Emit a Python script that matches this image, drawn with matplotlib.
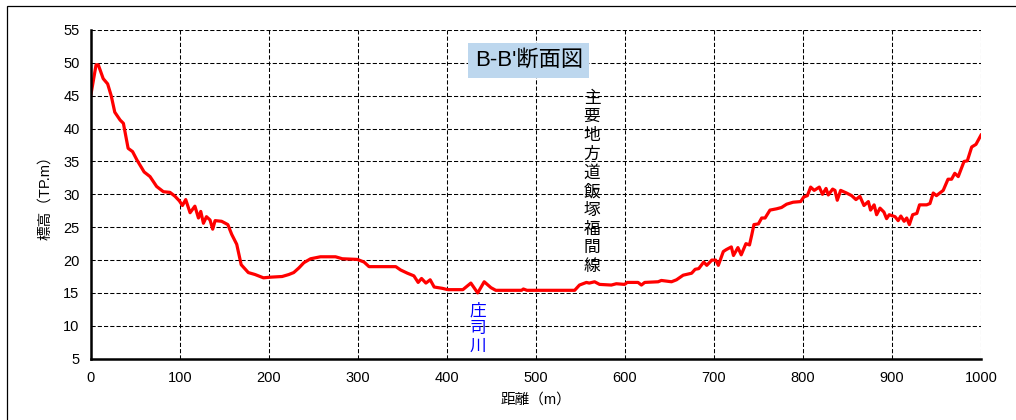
import numpy as np
import matplotlib
matplotlib.use("Agg")
import matplotlib.pyplot as plt
from matplotlib.patches import Rectangle

plt.rcParams['font.family'] = ['Liberation Sans', 'Noto Sans CJK JP', 'DejaVu Sans']

# profile B-B' (distance m, elevation TP.m)
dist = [0, 6, 8.5, 14, 19, 23, 27, 33, 36.7, 42, 47, 52, 60, 66.6, 74, 81.6, 89, 94.7,
        99.6, 103, 106.7, 111.6, 117, 121, 123.6, 126.6, 130, 134, 137, 139.7, 147, 154,
        158.4, 164, 169, 177, 184.6, 194, 202, 215, 222.5, 228, 233.8, 239.4, 247, 258,
        275, 282.6, 299.5, 307, 312.6, 342.7, 348, 355.8, 363, 367.8, 371.6, 376.5, 381.3,
        385.8, 395, 401, 418, 427, 434.7, 442, 449.6, 455, 484, 486, 490, 543.6, 549,
        556.8, 560, 566, 571.6, 584.8, 590.4, 599.7, 602.7, 614.8, 618.6, 622.3, 637.4,
        641, 646.7, 652.4, 658, 665.5, 675, 679, 683, 688.6, 692, 697.7, 702, 705, 710.6,
        714, 719.6, 722, 727, 730.7, 736, 740, 742.5, 745, 750, 753.7, 757.5, 763, 770.5,
        776, 781.7, 789, 797.5, 801, 805, 808.7, 812.7, 818.4, 822, 826, 828.5, 833.4,
        836, 838.6, 842.4, 849, 854.8, 859.6, 864, 868.6, 873.5, 876, 880, 882.8, 886.6,
        891, 894, 897, 903.5, 907, 910, 913.7, 916.6, 919.6, 923.3, 928, 931, 939, 942.7,
        946.4, 950, 957.6, 963, 967, 970.6, 974.5, 981, 984.7, 989.6, 994.4, 1000]
elev = [45.0, 49.7, 49.7, 47.6, 46.8, 45.0, 42.5, 41.3, 40.8, 37.0, 36.5, 35.2, 33.4, 32.7,
        31.2, 30.4, 30.3, 29.7, 29.0, 28.3, 29.2, 27.2, 28.2, 26.4, 27.4, 25.6, 26.6, 26.1,
        24.7, 26.0, 25.9, 25.4, 23.9, 22.4, 19.3, 18.1, 17.8, 17.3, 17.4, 17.5, 17.8, 18.1,
        18.8, 19.6, 20.2, 20.5, 20.5, 20.2, 20.1, 19.7, 19.0, 19.0, 18.5, 18.0, 17.6, 16.6,
        17.2, 16.5, 17.0, 15.9, 15.7, 15.5, 15.5, 16.5, 15.0, 16.7, 15.8, 15.4, 15.4, 15.6,
        15.4, 15.4, 16.2, 16.6, 16.5, 16.7, 16.3, 16.2, 16.4, 16.3, 16.6, 16.6, 16.2, 16.6,
        16.7, 16.9, 16.8, 16.7, 17.0, 17.7, 18.0, 18.6, 18.7, 19.7, 19.2, 20.0, 20.0, 19.2,
        21.3, 21.6, 22.0, 20.7, 21.9, 20.8, 22.5, 22.3, 23.8, 25.4, 25.5, 26.4, 26.4, 27.6,
        27.8, 28.0, 28.5, 28.8, 28.9, 29.6, 29.8, 31.1, 30.6, 31.1, 30.0, 30.9, 29.9, 30.8,
        30.6, 29.1, 30.6, 30.2, 29.8, 29.2, 29.7, 28.3, 28.9, 27.6, 28.4, 26.9, 27.9, 27.3,
        26.3, 26.9, 26.6, 26.0, 26.7, 25.9, 26.4, 25.4, 26.9, 27.1, 28.4, 28.4, 28.6, 30.2,
        29.8, 30.6, 32.3, 32.3, 33.2, 32.7, 35.0, 35.1, 37.2, 37.6, 39.0]

title = "B-B'断面図"
road_label = "主要地方道飯塚福間線"
river_label = "庄司川"

fig = plt.figure(figsize=(10.16, 4.2), dpi=100)
ax = fig.add_axes([0.0893, 0.146, 0.8762, 0.7826])

# thin frame around the chart area (cut off at right / bottom in the original)
fig.patches.append(Rectangle((7 / 1016, -0.05), 1.1, 1 - 6 / 420 + 0.05, transform=fig.transFigure,
                             fill=False, edgecolor='black', linewidth=0.9))

ax.plot(dist, elev, color='red', linewidth=2.3, zorder=3)

ax.set_xlim(0, 1000)
ax.set_ylim(5, 55)
ax.set_xticks(np.arange(0, 1001, 100))
ax.set_yticks(np.arange(5, 56, 5))
ax.grid(True, color='black', linestyle=(0, (4, 2)), linewidth=0.75)
ax.tick_params(length=0, labelsize=10.5)
ax.tick_params(axis='y', pad=8)
ax.tick_params(axis='x', pad=9)
for s in ['top', 'right']:
    ax.spines[s].set_visible(False)
for s in ['left', 'bottom']:
    ax.spines[s].set_linewidth(1.8)
    ax.spines[s].set_zorder(4)

ax.set_ylabel("標高（TP.m）", fontsize=10.5, labelpad=8)
ax.set_xlabel("距離（m）", fontsize=10.5, labelpad=5)

ax.text(492, 50.35, title, fontsize=16, ha='center', va='center', zorder=5,
        bbox=dict(boxstyle='square,pad=0.3', facecolor='#bdd7ee', edgecolor='none'))

for i, ch in enumerate(road_label):
    ax.annotate(ch, xy=(563, 45.8), xytext=(0, -i * 13.5), textcoords='offset points',
                ha='center', va='top', fontsize=12, color='black', zorder=5)

for i, ch in enumerate(river_label):
    ax.annotate(ch, xy=(434.7, 13.5), xytext=(0, -i * 13.0), textcoords='offset points',
                ha='center', va='top', fontsize=12, color='blue', zorder=5)

fig.savefig("out.png", dpi=100)
